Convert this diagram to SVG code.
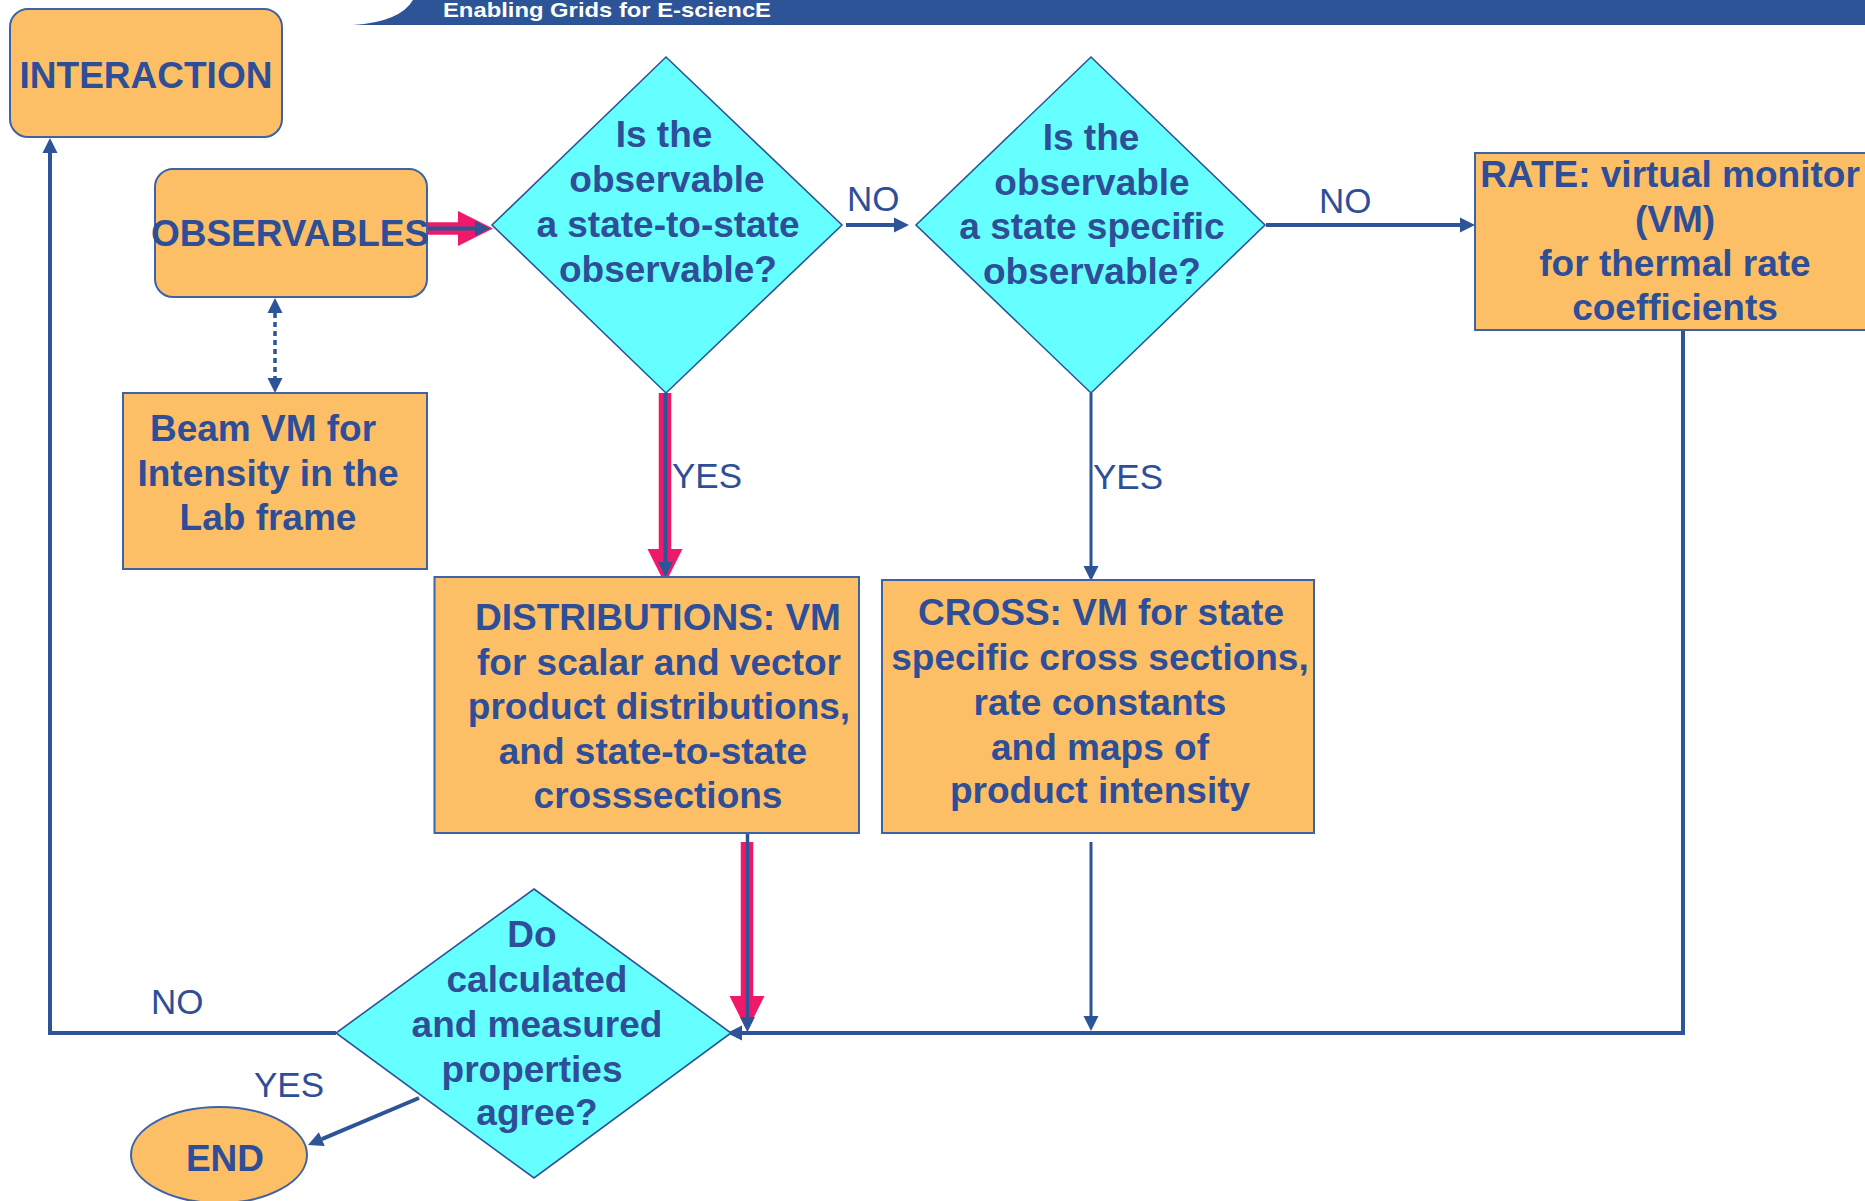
<svg xmlns="http://www.w3.org/2000/svg" width="1865" height="1201" viewBox="0 0 1865 1201">
<style>
.box{fill:#FDBF66;stroke:#3D62A8;stroke-width:2}
.dia{fill:#66FFFF;stroke:#2D5496;stroke-width:1.6}
.t{font-family:"Liberation Sans",Arial,sans-serif;font-weight:bold;font-size:37px;fill:#2E4E98;text-anchor:middle}
.lbl{font-family:"Liberation Sans",Arial,sans-serif;font-size:35px;fill:#2E4E98}
.ln{fill:none;stroke:#2D5496;stroke-width:4}
.red{fill:none;stroke:#F0186A;stroke-width:12.5}
</style>
<defs>
<marker id="ah" markerUnits="userSpaceOnUse" viewBox="0 -10 20 20" markerWidth="20" markerHeight="20" refX="0" refY="0" orient="auto-start-reverse" overflow="visible">
<path d="M0,-7.5 L15,0 L0,7.5 Z" fill="#2D5496"/>
</marker>
<marker id="rh" markerUnits="userSpaceOnUse" viewBox="0 -20 40 40" markerWidth="40" markerHeight="40" refX="0" refY="0" orient="auto" overflow="visible">
<path d="M0,-17.5 L35,0 L0,17.5 Z" fill="#F0186A"/>
</marker>
</defs>
<rect width="1865" height="1201" fill="#FFFFFF"/>
<g id="header">
<path d="M353,25 Q400,22 413,0 L1865,0 L1865,25 Z" fill="#2D5496"/>
<text x="443" y="17" font-family="Liberation Sans,Arial,sans-serif" font-weight="bold" font-size="21" fill="#FFFFFF" textLength="328" lengthAdjust="spacingAndGlyphs">Enabling Grids for E-sciencE</text>
</g>
<g id="connectors">
<path class="red" d="M428,228.5 H458" marker-end="url(#rh)"/>
<path class="ln" d="M428,228.5 H475" marker-end="url(#ah)"/>
<path class="ln" d="M846,225 H894" marker-end="url(#ah)"/>
<path class="ln" d="M1266,225 H1460" marker-end="url(#ah)"/>
<path class="red" d="M665,393 V549" marker-end="url(#rh)"/>
<path class="ln" d="M665.5,393 V562" marker-end="url(#ah)"/>
<path class="ln" style="stroke-width:3" d="M1091,393 V566" marker-end="url(#ah)"/>
<path class="ln" style="stroke-width:3.5;stroke-dasharray:5 4" d="M275,313 V378" marker-start="url(#ah)" marker-end="url(#ah)"/>
<path class="ln" d="M1683,330 V1033 H742" marker-end="url(#ah)"/>
<path class="red" d="M747,842 V996" marker-end="url(#rh)"/>
<path class="ln" style="stroke-width:3.5" d="M747.5,825 V1017" marker-end="url(#ah)"/>
<path class="ln" style="stroke-width:3" d="M1091,842 V1016" marker-end="url(#ah)"/>
<path class="ln" d="M336,1033 H50 V153" marker-end="url(#ah)"/>
<path class="ln" d="M419,1098 L321.8,1139.2" marker-end="url(#ah)"/>
<text class="lbl" x="847" y="211">NO</text>
<text class="lbl" x="1319" y="213">NO</text>
<text class="lbl" x="672" y="488">YES</text>
<text class="lbl" x="1093" y="489">YES</text>
<text class="lbl" x="151" y="1014">NO</text>
<text class="lbl" x="254" y="1097">YES</text>
</g>
<g id="interaction">
<rect class="box" x="10" y="9" width="272" height="128" rx="18"/>
<text class="t" x="146" y="88">INTERACTION</text>
</g>
<g id="observables">
<rect class="box" x="155" y="169" width="272" height="128" rx="18"/>
<text class="t" x="290" y="246">OBSERVABLES</text>
</g>
<g id="beam">
<rect class="box" x="123" y="393" width="304" height="176"/>
<text class="t" x="263" y="441">Beam VM for</text>
<text class="t" x="268" y="486">Intensity in the</text>
<text class="t" x="268" y="530">Lab frame</text>
</g>
<g id="q1">
<polygon class="dia" points="666,57 842,225 666,393 492,225"/>
<text class="t" x="664" y="147">Is the</text>
<text class="t" x="667" y="192">observable</text>
<text class="t" x="668" y="237">a state-to-state</text>
<text class="t" x="668" y="282">observable?</text>
</g>
<g id="q2">
<polygon class="dia" points="1091,57 1265,225 1091,393 916,225"/>
<text class="t" x="1091" y="150">Is the</text>
<text class="t" x="1092" y="195">observable</text>
<text class="t" x="1092" y="239">a state specific</text>
<text class="t" x="1092" y="284">observable?</text>
</g>
<g id="rate">
<rect class="box" x="1475" y="153" width="420" height="177"/>
<text class="t" x="1670" y="187">RATE: virtual monitor</text>
<text class="t" x="1675" y="232">(VM)</text>
<text class="t" x="1675" y="276">for thermal rate</text>
<text class="t" x="1675" y="320">coefficients</text>
</g>
<g id="distributions">
<rect class="box" x="434.5" y="577" width="424.5" height="256"/>
<text class="t" x="658" y="630">DISTRIBUTIONS: VM</text>
<text class="t" x="659" y="675">for scalar and vector</text>
<text class="t" x="659" y="719">product distributions,</text>
<text class="t" x="653" y="764">and state-to-state</text>
<text class="t" x="658" y="808">crosssections</text>
</g>
<g id="cross">
<rect class="box" x="882" y="580" width="432" height="253"/>
<text class="t" x="1101" y="625">CROSS: VM for state</text>
<text class="t" x="1100" y="670">specific cross sections,</text>
<text class="t" x="1100" y="715">rate constants</text>
<text class="t" x="1100" y="760">and maps of</text>
<text class="t" x="1100" y="803">product intensity</text>
</g>
<g id="q3">
<polygon class="dia" points="534,889 731,1033 534,1178 336,1033"/>
<text class="t" x="532" y="947">Do</text>
<text class="t" x="537" y="992">calculated</text>
<text class="t" x="537" y="1037">and measured</text>
<text class="t" x="532" y="1082">properties</text>
<text class="t" x="537" y="1125">agree?</text>
</g>
<g id="end">
<ellipse class="box" cx="219" cy="1155" rx="88" ry="48"/>
<text class="t" x="225" y="1171">END</text>
</g>
</svg>
